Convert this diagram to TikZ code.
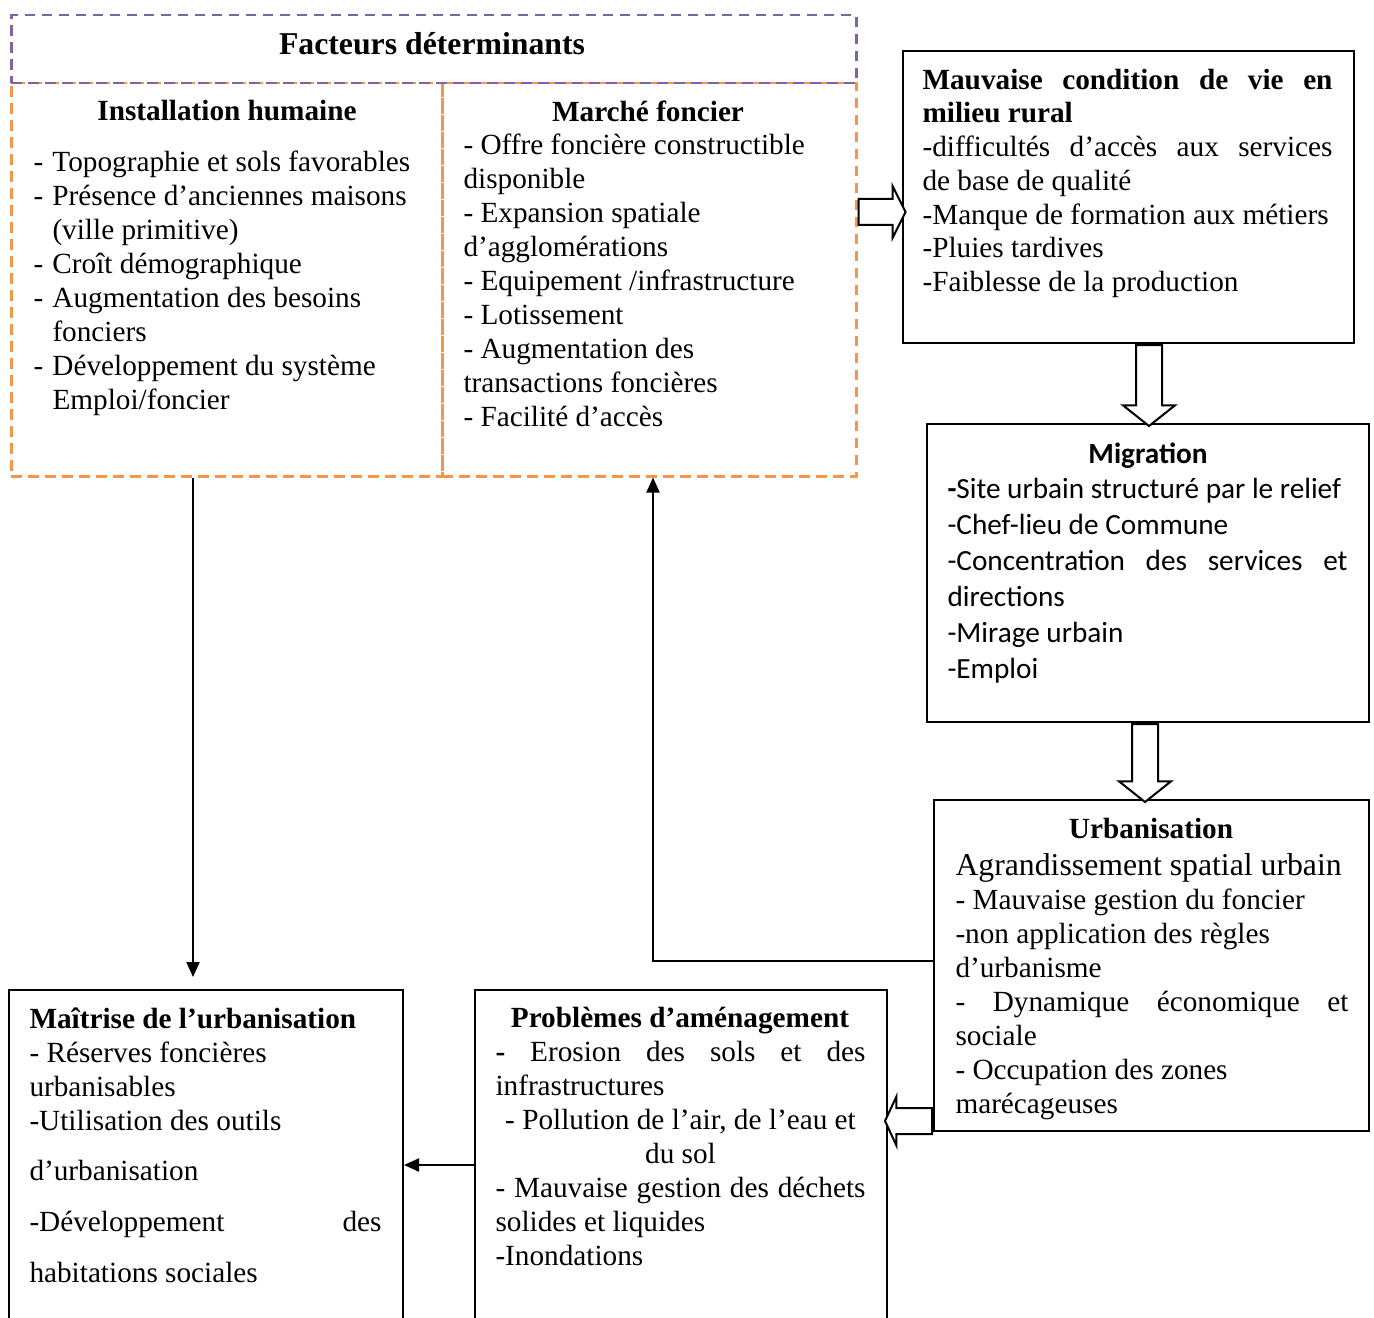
\documentclass[tikz,border=0pt]{standalone}
\usepackage{fontspec}
\setmainfont{Liberation Serif}
\newfontfamily\calfont{Carlito}
\usetikzlibrary{arrows.meta,shapes.arrows}
\definecolor{facpurple}{HTML}{8064A2}
\definecolor{facorange}{HTML}{F79646}
\newcommand\jline[2]{\makebox[#1][s]{#2}}
\newcommand\hdl{\makebox[7.6pt][l]{-}}
\tikzset{
  box/.style={draw, line width=0.8pt, inner sep=0pt, anchor=north west},
  dbox/.style={draw=#1, line width=1pt, dash pattern=on 4.2pt off 2.6pt, inner sep=0pt, anchor=north west},
  txt/.style={inner sep=0pt, anchor=north west, align=left, font=\fontsize{11.7}{13.6}\selectfont},
  ctxt/.style={txt, font=\calfont\fontsize{11.7}{14.4}\selectfont},
  ttl/.style={inner sep=0pt, font=\bfseries\fontsize{11.7}{13.6}\selectfont},
  hollow/.style={single arrow, draw, line width=0.8pt, fill=white, inner sep=4.8pt, anchor=tail},
  arr/.style={line width=0.8pt, -{Triangle[length=6pt,width=5.2pt]}}
}
\begin{document}
\begin{tikzpicture}[x=0.4pt,y=-0.4pt]
    \useasboundingbox (0,0) rectangle (1374,1318);
    \node [dbox=facorange, minimum width=172.4pt, minimum height=157.2pt] (install) at (10,82) {};
    \node [dbox=facorange, minimum width=165.6pt, minimum height=157.2pt] (marche) at (441,82) {};
    \node [dbox=facpurple, minimum width=338pt, minimum height=27.2pt] (fact) at (10,14) {};
    \node [ttl, font=\bfseries\fontsize{12.7}{13.6}\selectfont] (factH) at (432,44) {Facteurs déterminants};
    \node [ttl] (installH) at (227,111) {Installation humaine};
    \node [ttl] (marcheH) at (648,111) {Marché foncier};
    \node [txt] (installT) at (33,147) {\strut\hdl Topographie et sols favorables\\
        \hdl Présence d’anciennes maisons\\
        \hspace*{7.6pt}(ville primitive)\\
        \hdl Croît démographique\\
        \hdl Augmentation des besoins\\
        \hspace*{7.6pt}fonciers\\
        \hdl Développement du système\\
        \hspace*{7.6pt}Emploi/foncier};
    \node [txt] (marcheT) at (463,130) {\strut - Offre foncière constructible\\
        disponible\\
        - Expansion spatiale\\
        d’agglomérations\\
        - Equipement /infrastructure\\
        - Lotissement\\
        - Augmentation des\\
        transactions foncières\\
        - Facilité d’accès};

    \node [box, minimum width=180.4pt, minimum height=116.8pt] (mauv) at (902,50) {};
    \node [txt, font=\fontsize{11.7}{13.5}\selectfont] (mauvT) at (922,65) {\strut\jline{164pt}{\bfseries Mauvaise condition de vie en}\\
        \textbf{milieu rural}\\
        \jline{164pt}{-difficultés d’accès aux services}\\
        de base de qualité\\
        -Manque de formation aux métiers\\
        -Pluies tardives\\
        -Faiblesse de la production};

    \node [box, minimum width=176.8pt, minimum height=119.2pt] (migr) at (926,423) {};
    \node [ttl, font=\calfont\bfseries\fontsize{11.7}{14.4}\selectfont] (migrH) at (1148,456) {Migration};
    \node [ctxt] (migrT) at (947,473) {\strut\textbf{-}Site urbain structuré par le relief\\
        -Chef-lieu de Commune\\
        \jline{160pt}{-Concentration des services et}\\
        directions\\
        -Mirage urbain\\
        -Emploi};

    \node [box, minimum width=174pt, minimum height=132.4pt] (urban) at (933,799) {};
    \node [ttl] (urbanH) at (1151,828) {Urbanisation};
    \node [txt] (urbanT) at (955,851) {{\fontsize{12.7}{13.6}\selectfont\strut Agrandissement spatial urbain}\\
        - Mauvaise gestion du foncier\\
        -non application des règles\\
        d’urbanisme\\
        \jline{157.2pt}{- Dynamique économique et}\\
        sociale\\
        - Occupation des zones\\
        marécageuses};

    \node [box, minimum width=164.8pt, minimum height=136.4pt] (prob) at (474,989) {};
    \node [ttl] (probH) at (680,1021) {Problèmes d’aménagement};
    \node [txt] (probT) at (495,1037) {\strut\jline{148pt}{\textbf{-} Erosion des sols et des}\\
        infrastructures\\
        \makebox[148pt]{- Pollution de l’air, de l’eau et}\\
        \makebox[148pt]{du sol}\\
        \jline{148pt}{- Mauvaise gestion des déchets}\\
        solides et liquides\\
        -Inondations};

    \node [box, minimum width=157.6pt, minimum height=136.4pt] (maitr) at (8,989) {};
    \node [txt] (maitrT) at (29,1004) {\strut\textbf{Maîtrise de l’urbanisation}\\
        - Réserves foncières\\
        urbanisables\\
        -Utilisation des outils\\[6.4pt]
        d’urbanisation\\[6.8pt]
        \jline{140.8pt}{-Développement des}\\[6.8pt]
        habitations sociales};

    \coordinate (ay1) at (0,212);
    \coordinate (ax2) at (1149,0);
    \coordinate (ax3) at (1145,0);
    \coordinate (ay4) at (0,1121);
    \node [hollow, minimum height=18.8pt, single arrow head extend=5.2pt, single arrow tip angle=127] (a1) at (marche.east |- ay1) {};
    \node [hollow, shape border rotate=270, minimum height=32.4pt, single arrow head extend=5.2pt, single arrow tip angle=103] (a2) at (mauv.south -| ax2) {};
    \node [hollow, shape border rotate=270, minimum height=31.2pt, single arrow head extend=5.2pt, single arrow tip angle=103] (a3) at (migr.south -| ax3) {};
    \node [hollow, shape border rotate=180, minimum height=18.8pt, single arrow head extend=4.6pt, single arrow tip angle=130] (a4) at (urban.west |- ay4) {};

    \coordinate (cx1) at (193,0);
    \coordinate (elb) at (653,961);
    \coordinate (ay5) at (0,1165);
    \draw [arr, shorten >=4.8pt] (install.south -| cx1) -- (maitr.north -| cx1);
    \draw [arr] (urban.west |- elb) -- (elb) -- (marche.south -| elb);
    \draw [arr] (prob.west |- ay5) -- (maitr.east |- ay5);
\end{tikzpicture}
\end{document}
